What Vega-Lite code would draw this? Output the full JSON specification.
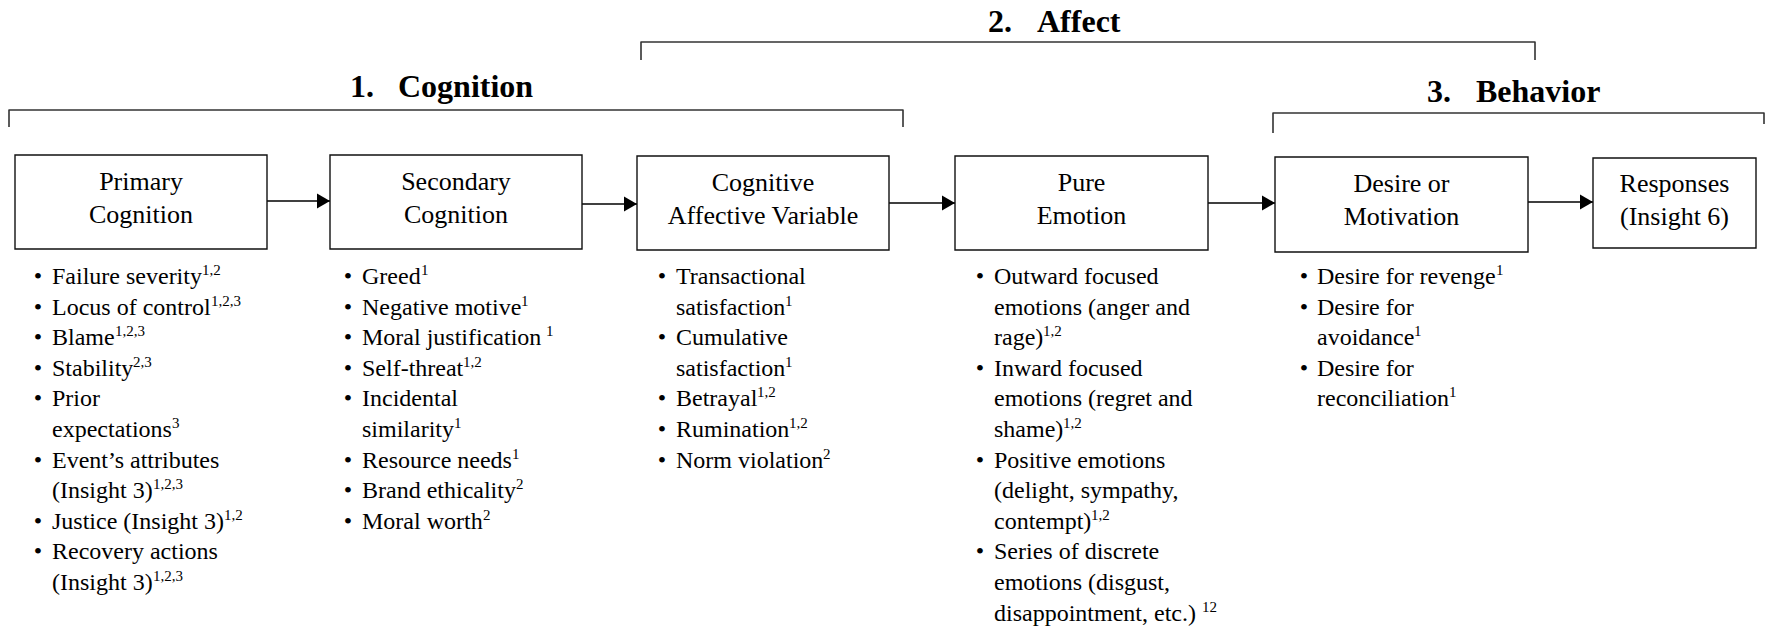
{
  "$schema": "https://vega.github.io/schema/vega-lite/v6.json",
  "width": 1765,
  "height": 626,
  "autosize": {"type": "fit", "contains": "padding"},
  "padding": 0,
  "background": "white",
  "config": {"view": {"stroke": null}, "text": {"font": "Liberation Serif, DejaVu Serif, serif", "color": "#000"}},
  "datasets": {
    "brackets": [
      {"id": "b1", "o": 1, "x": 9, "y": 127}, {"id": "b1", "o": 2, "x": 9, "y": 110}, {"id": "b1", "o": 3, "x": 903, "y": 110}, {"id": "b1", "o": 4, "x": 903, "y": 127},
      {"id": "b2", "o": 1, "x": 641, "y": 60}, {"id": "b2", "o": 2, "x": 641, "y": 42}, {"id": "b2", "o": 3, "x": 1535, "y": 42}, {"id": "b2", "o": 4, "x": 1535, "y": 60},
      {"id": "b3", "o": 1, "x": 1273, "y": 133}, {"id": "b3", "o": 2, "x": 1273, "y": 113}, {"id": "b3", "o": 3, "x": 1764, "y": 113}, {"id": "b3", "o": 4, "x": 1764, "y": 124}
    ],
    "arrows": [
      {"x1": 267, "x2": 330, "y": 201},
      {"x1": 582, "x2": 637, "y": 204},
      {"x1": 889, "x2": 955, "y": 203},
      {"x1": 1208, "x2": 1275, "y": 203},
      {"x1": 1528, "x2": 1593, "y": 202}
    ],
    "boxes": [
      {"x1": 15, "x2": 267, "y1": 155, "y2": 249},
      {"x1": 330, "x2": 582, "y1": 155, "y2": 249},
      {"x1": 637, "x2": 889, "y1": 156, "y2": 250},
      {"x1": 955, "x2": 1208, "y1": 156, "y2": 250},
      {"x1": 1275, "x2": 1528, "y1": 157, "y2": 252},
      {"x1": 1593, "x2": 1756, "y1": 158, "y2": 248}
    ],
    "boxlabels": [
      {"x": 141, "y": 190, "t": "Primary"}, {"x": 141, "y": 223, "t": "Cognition"},
      {"x": 456, "y": 190, "t": "Secondary"}, {"x": 456, "y": 223, "t": "Cognition"},
      {"x": 763, "y": 191, "t": "Cognitive"}, {"x": 763, "y": 224, "t": "Affective Variable"},
      {"x": 1081.5, "y": 191, "t": "Pure"}, {"x": 1081.5, "y": 224, "t": "Emotion"},
      {"x": 1401.5, "y": 192, "t": "Desire or"}, {"x": 1401.5, "y": 225, "t": "Motivation"},
      {"x": 1674.5, "y": 192, "t": "Responses"}, {"x": 1674.5, "y": 225, "t": "(Insight 6)"}
    ],
    "headers": [
      {"x": 350, "y": 97, "t": "1."}, {"x": 398, "y": 97, "t": "Cognition"},
      {"x": 988, "y": 32, "t": "2."}, {"x": 1037, "y": 32, "t": "Affect"},
      {"x": 1427, "y": 102, "t": "3."}, {"x": 1476, "y": 102, "t": "Behavior"}
    ],
    "items": [
      {"x": 52, "y": 284, "t": "Failure severity"},
      {"x": 52, "y": 315, "t": "Locus of control"},
      {"x": 52, "y": 345, "t": "Blame"},
      {"x": 52, "y": 376, "t": "Stability"},
      {"x": 52, "y": 406, "t": "Prior"},
      {"x": 52, "y": 437, "t": "expectations"},
      {"x": 52, "y": 468, "t": "Event’s attributes"},
      {"x": 52, "y": 498, "t": "(Insight 3)"},
      {"x": 52, "y": 529, "t": "Justice (Insight 3)"},
      {"x": 52, "y": 559, "t": "Recovery actions"},
      {"x": 52, "y": 590, "t": "(Insight 3)"},
      {"x": 362, "y": 284, "t": "Greed"},
      {"x": 362, "y": 315, "t": "Negative motive"},
      {"x": 362, "y": 345, "t": "Moral justification"},
      {"x": 362, "y": 376, "t": "Self-threat"},
      {"x": 362, "y": 406, "t": "Incidental"},
      {"x": 362, "y": 437, "t": "similarity"},
      {"x": 362, "y": 468, "t": "Resource needs"},
      {"x": 362, "y": 498, "t": "Brand ethicality"},
      {"x": 362, "y": 529, "t": "Moral worth"},
      {"x": 676, "y": 284, "t": "Transactional"},
      {"x": 676, "y": 315, "t": "satisfaction"},
      {"x": 676, "y": 345, "t": "Cumulative"},
      {"x": 676, "y": 376, "t": "satisfaction"},
      {"x": 676, "y": 406, "t": "Betrayal"},
      {"x": 676, "y": 437, "t": "Rumination"},
      {"x": 676, "y": 468, "t": "Norm violation"},
      {"x": 994, "y": 284, "t": "Outward focused"},
      {"x": 994, "y": 315, "t": "emotions (anger and"},
      {"x": 994, "y": 345, "t": "rage)"},
      {"x": 994, "y": 376, "t": "Inward focused"},
      {"x": 994, "y": 406, "t": "emotions (regret and"},
      {"x": 994, "y": 437, "t": "shame)"},
      {"x": 994, "y": 468, "t": "Positive emotions"},
      {"x": 994, "y": 498, "t": "(delight, sympathy,"},
      {"x": 994, "y": 529, "t": "contempt)"},
      {"x": 994, "y": 559, "t": "Series of discrete"},
      {"x": 994, "y": 590, "t": "emotions (disgust,"},
      {"x": 994, "y": 621, "t": "disappointment, etc.)"},
      {"x": 1317, "y": 284, "t": "Desire for revenge"},
      {"x": 1317, "y": 315, "t": "Desire for"},
      {"x": 1317, "y": 345, "t": "avoidance"},
      {"x": 1317, "y": 376, "t": "Desire for"},
      {"x": 1317, "y": 406, "t": "reconciliation"}
    ],
    "bullets": [
      {"x": 38, "y": 284}, {"x": 38, "y": 315}, {"x": 38, "y": 345}, {"x": 38, "y": 376}, {"x": 38, "y": 406}, {"x": 38, "y": 468}, {"x": 38, "y": 529}, {"x": 38, "y": 559},
      {"x": 348, "y": 284}, {"x": 348, "y": 315}, {"x": 348, "y": 345}, {"x": 348, "y": 376}, {"x": 348, "y": 406}, {"x": 348, "y": 468}, {"x": 348, "y": 498}, {"x": 348, "y": 529},
      {"x": 662, "y": 284}, {"x": 662, "y": 345}, {"x": 662, "y": 406}, {"x": 662, "y": 437}, {"x": 662, "y": 468},
      {"x": 980, "y": 284}, {"x": 980, "y": 376}, {"x": 980, "y": 468}, {"x": 980, "y": 559},
      {"x": 1304, "y": 284}, {"x": 1304, "y": 315}, {"x": 1304, "y": 376}
    ],
    "sups": [
      {"x": 202, "y": 284, "t": "1,2"},
      {"x": 211, "y": 315, "t": "1,2,3"},
      {"x": 115, "y": 345, "t": "1,2,3"},
      {"x": 133, "y": 376, "t": "2,3"},
      {"x": 172, "y": 437, "t": "3"},
      {"x": 153, "y": 498, "t": "1,2,3"},
      {"x": 224, "y": 529, "t": "1,2"},
      {"x": 153, "y": 590, "t": "1,2,3"},
      {"x": 421, "y": 284, "t": "1"},
      {"x": 521, "y": 315, "t": "1"},
      {"x": 546, "y": 345, "t": "1"},
      {"x": 463, "y": 376, "t": "1,2"},
      {"x": 454, "y": 437, "t": "1"},
      {"x": 512, "y": 468, "t": "1"},
      {"x": 516, "y": 498, "t": "2"},
      {"x": 483, "y": 529, "t": "2"},
      {"x": 785, "y": 315, "t": "1"},
      {"x": 785, "y": 376, "t": "1"},
      {"x": 757, "y": 406, "t": "1,2"},
      {"x": 789, "y": 437, "t": "1,2"},
      {"x": 823, "y": 468, "t": "2"},
      {"x": 1043, "y": 345, "t": "1,2"},
      {"x": 1063, "y": 437, "t": "1,2"},
      {"x": 1091, "y": 529, "t": "1,2"},
      {"x": 1202, "y": 621, "t": "12"},
      {"x": 1496, "y": 284, "t": "1"},
      {"x": 1414, "y": 345, "t": "1"},
      {"x": 1449, "y": 406, "t": "1"}
    ]
  },
  "layer": [
    {
      "data": {"name": "brackets"},
      "mark": {"type": "line", "stroke": "#333", "strokeWidth": 1.6, "strokeJoin": "round"},
      "encoding": {
        "x": {"field": "x", "type": "quantitative", "scale": {"domain": [0, 1765], "nice": false, "zero": false}, "axis": null},
        "y": {"field": "y", "type": "quantitative", "scale": {"domain": [0, 626], "nice": false, "zero": false, "reverse": true}, "axis": null},
        "detail": {"field": "id"},
        "order": {"field": "o"}
      }
    },
    {
      "data": {"name": "arrows"},
      "mark": {"type": "rule", "stroke": "#000", "strokeWidth": 1.5},
      "encoding": {
        "x": {"field": "x1", "type": "quantitative", "scale": {"domain": [0, 1765], "nice": false, "zero": false}, "axis": null},
        "x2": {"field": "x2"},
        "y": {"field": "y", "type": "quantitative", "scale": {"domain": [0, 626], "nice": false, "zero": false, "reverse": true}, "axis": null}
      }
    },
    {
      "data": {"name": "boxes"},
      "mark": {"type": "rect", "fill": "white", "stroke": "#111", "strokeWidth": 1.4},
      "encoding": {
        "x": {"field": "x1", "type": "quantitative", "scale": {"domain": [0, 1765], "nice": false, "zero": false}, "axis": null},
        "x2": {"field": "x2"},
        "y": {"field": "y1", "type": "quantitative", "scale": {"domain": [0, 626], "nice": false, "zero": false, "reverse": true}, "axis": null},
        "y2": {"field": "y2"}
      }
    },
    {
      "data": {"name": "arrows"},
      "mark": {"type": "point", "shape": "triangle-right", "filled": true, "color": "#000", "opacity": 1, "size": 225, "xOffset": -6.5},
      "encoding": {
        "x": {"field": "x2", "type": "quantitative", "scale": {"domain": [0, 1765], "nice": false, "zero": false}, "axis": null},
        "y": {"field": "y", "type": "quantitative", "scale": {"domain": [0, 626], "nice": false, "zero": false, "reverse": true}, "axis": null}
      }
    },
    {
      "data": {"name": "headers"},
      "mark": {"type": "text", "align": "left", "baseline": "alphabetic", "fontSize": 32, "fontWeight": "bold"},
      "encoding": {
        "x": {"field": "x", "type": "quantitative", "scale": {"domain": [0, 1765], "nice": false, "zero": false}, "axis": null},
        "y": {"field": "y", "type": "quantitative", "scale": {"domain": [0, 626], "nice": false, "zero": false, "reverse": true}, "axis": null},
        "text": {"field": "t"}
      }
    },
    {
      "data": {"name": "boxlabels"},
      "mark": {"type": "text", "align": "center", "baseline": "alphabetic", "fontSize": 26},
      "encoding": {
        "x": {"field": "x", "type": "quantitative", "scale": {"domain": [0, 1765], "nice": false, "zero": false}, "axis": null},
        "y": {"field": "y", "type": "quantitative", "scale": {"domain": [0, 626], "nice": false, "zero": false, "reverse": true}, "axis": null},
        "text": {"field": "t"}
      }
    },
    {
      "data": {"name": "items"},
      "mark": {"type": "text", "align": "left", "baseline": "alphabetic", "fontSize": 24},
      "encoding": {
        "x": {"field": "x", "type": "quantitative", "scale": {"domain": [0, 1765], "nice": false, "zero": false}, "axis": null},
        "y": {"field": "y", "type": "quantitative", "scale": {"domain": [0, 626], "nice": false, "zero": false, "reverse": true}, "axis": null},
        "text": {"field": "t"}
      }
    },
    {
      "data": {"name": "bullets"},
      "mark": {"type": "text", "align": "center", "baseline": "alphabetic", "fontSize": 24, "text": "•"},
      "encoding": {
        "x": {"field": "x", "type": "quantitative", "scale": {"domain": [0, 1765], "nice": false, "zero": false}, "axis": null},
        "y": {"field": "y", "type": "quantitative", "scale": {"domain": [0, 626], "nice": false, "zero": false, "reverse": true}, "axis": null}
      }
    },
    {
      "data": {"name": "sups"},
      "mark": {"type": "text", "align": "left", "baseline": "alphabetic", "fontSize": 15, "dy": -9},
      "encoding": {
        "x": {"field": "x", "type": "quantitative", "scale": {"domain": [0, 1765], "nice": false, "zero": false}, "axis": null},
        "y": {"field": "y", "type": "quantitative", "scale": {"domain": [0, 626], "nice": false, "zero": false, "reverse": true}, "axis": null},
        "text": {"field": "t"}
      }
    }
  ]
}
